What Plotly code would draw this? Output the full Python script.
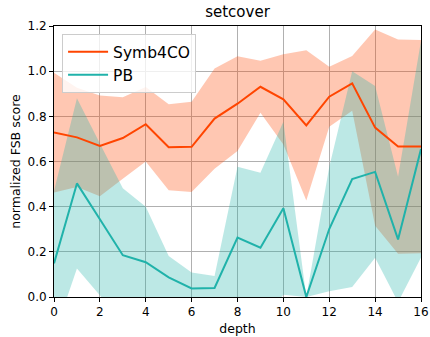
import plotly.graph_objects as go

depth = list(range(17))
symb_mean = [0.728, 0.707, 0.669, 0.704, 0.765, 0.663, 0.665, 0.790, 0.856, 0.931, 0.875, 0.760, 0.887, 0.946, 0.750, 0.666, 0.666]
symb_std = [0.265, 0.220, 0.223, 0.180, 0.165, 0.190, 0.200, 0.222, 0.210, 0.115, 0.200, 0.333, 0.133, 0.121, 0.435, 0.474, 0.472]
pb_mean = [0.149, 0.503, 0.344, 0.185, 0.154, 0.087, 0.038, 0.040, 0.263, 0.218, 0.393, 0.000, 0.301, 0.522, 0.554, 0.255, 0.655]
pb_std = [0.320, 0.377, 0.336, 0.296, 0.246, 0.095, 0.070, 0.053, 0.314, 0.332, 0.383, 0.000, 0.275, 0.478, 0.380, 0.278, 0.480]
x_ticks = [0, 2, 4, 6, 8, 10, 12, 14, 16]
y_ticks = [0.0, 0.2, 0.4, 0.6, 0.8, 1.0, 1.2]

series = [
    ("Symb4CO", symb_mean, symb_std, "#FF4500", "rgba(255,69,0,0.3)"),
    ("PB", pb_mean, pb_std, "#20B2AA", "rgba(32,178,170,0.3)"),
]

fig = go.Figure()
for name, m, s, lc, fc in series:
    upper = [a + b for a, b in zip(m, s)]
    lower = [a - b for a, b in zip(m, s)]
    fig.add_trace(go.Scatter(
        x=depth + depth[::-1], y=upper + lower[::-1],
        fill="toself", fillcolor=fc, line=dict(width=0, color="rgba(0,0,0,0)"),
        mode="lines", showlegend=False, hoverinfo="skip"))
for name, m, s, lc, fc in series:
    fig.add_trace(go.Scatter(x=depth, y=m, mode="lines", name=name,
                             line=dict(color=lc, width=2)))

font = "DejaVu Sans"
fig.update_layout(
    width=430, height=337,
    margin=dict(l=54, r=9, t=26, b=40),
    paper_bgcolor="white", plot_bgcolor="white",
    font=dict(family=font, size=12, color="#262626"),
    title=dict(text="setcover", x=(54 + 183.5) / 430, xanchor="center",
               y=(337 - 12) / 337, yanchor="middle", yref="container",
               font=dict(size=15, color="black")),
    legend=dict(x=0.022, y=0.97, xanchor="left", yanchor="top",
                bgcolor="rgba(255,255,255,0.8)", bordercolor="#cccccc", borderwidth=1,
                font=dict(size=15.5, color="black"), tracegroupgap=0, itemwidth=40),
)
fig.update_xaxes(
    range=[0, 16], tickvals=x_ticks, ticktext=[str(t) for t in x_ticks],
    showgrid=True, gridcolor="#b0b0b0", gridwidth=0.8, automargin=False,
    showline=True, linecolor="black", linewidth=1, mirror=True,
    ticks="outside", ticklen=4, tickcolor="black", zeroline=False,
    tickfont=dict(size=12, color="black"),
    title=dict(text="depth", font=dict(size=12.5, color="black"), standoff=5),
)
fig.update_yaxes(
    range=[0, 1.2], tickvals=y_ticks, ticktext=[f"{t:.1f}" for t in y_ticks],
    showgrid=True, gridcolor="#b0b0b0", gridwidth=0.8, automargin=False,
    showline=True, linecolor="black", linewidth=1, mirror=True,
    ticks="outside", ticklen=4, tickcolor="black", zeroline=False,
    tickfont=dict(size=12, color="black"),
    title=dict(text="normalized FSB score", font=dict(size=12.5, color="black"), standoff=4),
)
fig.write_html("out.html", config={"displayModeBar": False},
               post_script="document.body.style.margin='0';document.body.style.overflow='hidden';")
